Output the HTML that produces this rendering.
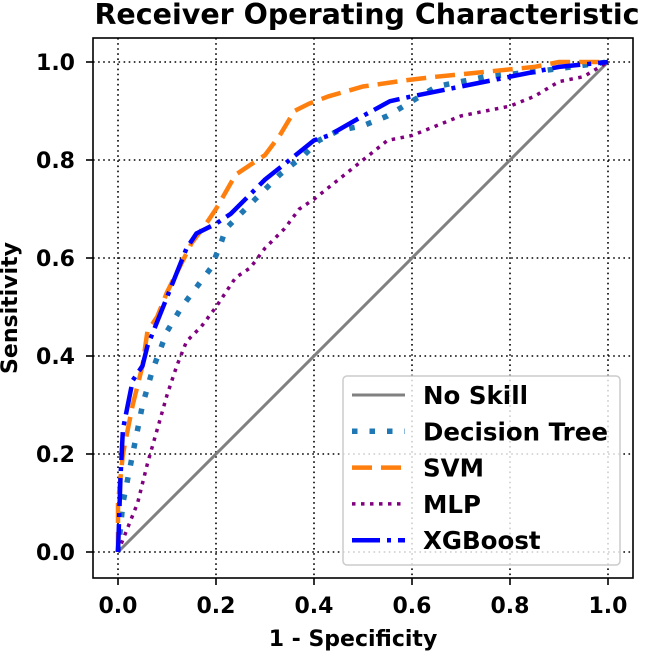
<!DOCTYPE html>
<html><head><meta charset="utf-8"><style>
body{margin:0;background:#fff;}
svg text{font-family:"DejaVu Sans","Liberation Sans",sans-serif;font-weight:bold;}
</style></head><body>
<svg id="chart" width="650" height="653" xmlns="http://www.w3.org/2000/svg">
<text x="367" y="24" text-anchor="middle" font-size="28.5">Receiver Operating Characteristic</text>
<g id="grid"></g>
<g id="series"></g>
<rect x="93" y="38" width="540" height="540" fill="none" stroke="#000" stroke-width="1.6"/>
<g id="ticks"></g>
<text x="353" y="646" text-anchor="middle" font-size="22">1 - Specificity</text>
<text transform="translate(17,308) rotate(-90)" text-anchor="middle" font-size="22">Sensitivity</text>
<g id="legend"></g>
</svg>
<script>
const tickVals=[0,0.2,0.4,0.6,0.8,1.0];
const tickLabels=["0.0","0.2","0.4","0.6","0.8","1.0"];
const noSkillX=[0,1];
const noSkillY=[0,1];
const dtX=[0,0.01,0.03,0.05,0.07,0.1,0.13,0.16,0.19,0.21,0.22,0.25,0.28,0.33,0.38,0.41,0.45,0.5,0.55,0.6,0.65,0.75,0.85,1];
const dtY=[0,0.1,0.2,0.3,0.37,0.45,0.5,0.54,0.58,0.63,0.66,0.69,0.72,0.77,0.81,0.84,0.86,0.87,0.89,0.92,0.95,0.97,0.98,1];
const svmX=[0,0,0.01,0.02,0.03,0.05,0.06,0.08,0.1,0.12,0.15,0.18,0.2,0.24,0.27,0.3,0.33,0.36,0.39,0.43,0.5,0.59,0.65,0.75,0.85,0.9,1];
const svmY=[0,0.1,0.2,0.25,0.3,0.38,0.45,0.48,0.53,0.57,0.63,0.67,0.7,0.77,0.79,0.81,0.85,0.9,0.915,0.93,0.95,0.963,0.97,0.98,0.99,1,1];
const mlpX=[0,0.02,0.04,0.06,0.08,0.1,0.12,0.14,0.17,0.2,0.24,0.27,0.3,0.34,0.37,0.4,0.45,0.5,0.55,0.6,0.65,0.7,0.75,0.8,0.85,0.9,0.95,1];
const mlpY=[0,0.05,0.1,0.18,0.25,0.32,0.38,0.43,0.46,0.5,0.56,0.58,0.62,0.66,0.7,0.72,0.76,0.8,0.84,0.85,0.87,0.89,0.9,0.91,0.93,0.96,0.97,1];
const xgbX=[0,0.005,0.01,0.02,0.03,0.05,0.06,0.08,0.1,0.12,0.14,0.16,0.2,0.23,0.26,0.3,0.35,0.4,0.43,0.5,0.555,0.6,0.7,0.8,0.9,1];
const xgbY=[0,0.15,0.25,0.3,0.35,0.38,0.42,0.47,0.52,0.57,0.62,0.65,0.67,0.69,0.72,0.76,0.8,0.84,0.85,0.89,0.92,0.93,0.95,0.97,0.99,1];
const sx=v=>118+v*490, sy=v=>552-v*490;
const NS="http://www.w3.org/2000/svg";
function mk(t,a,p){const e=document.createElementNS(NS,t);for(const k in a)e.setAttribute(k,a[k]);p.appendChild(e);return e;}
const grid=document.getElementById('grid'),ticks=document.getElementById('ticks');
tickVals.forEach((v,i)=>{
 const g1=mk('line',{x1:sx(v),x2:sx(v),y1:38,y2:578,stroke:'#000','stroke-width':1.6,'stroke-dasharray':'1.6,3.5'},grid);
 
 
 const g2=mk('line',{x1:93,x2:633,y1:sy(v),y2:sy(v),stroke:'#000','stroke-width':1.6,'stroke-dasharray':'1.6,3.5'},grid);
 
 
 mk('line',{x1:sx(v),x2:sx(v),y1:578,y2:585,stroke:'#000','stroke-width':1.6},ticks);
 mk('line',{x1:86,x2:93,y1:sy(v),y2:sy(v),stroke:'#000','stroke-width':1.6},ticks);
 const tx=mk('text',{x:sx(v),y:613,'text-anchor':'middle','font-size':22},ticks);tx.textContent=tickLabels[i];
 
 
 const ty=mk('text',{x:75,y:sy(v)+8,'text-anchor':'end','font-size':22},ticks);ty.textContent=tickLabels[i];
 
 
});
const styles=[
 {n:'No Skill',x:noSkillX,y:noSkillY,c:'#808080',w:3,d:'',k:'no-skill-line'},
 {n:'Decision Tree',x:dtX,y:dtY,c:'#1f77b4',w:5.5,d:'5.5,12',k:'decision-tree-line'},
 {n:'SVM',x:svmX,y:svmY,c:'#ff7f0e',w:4.5,d:'20,9',k:'svm-line'},
 {n:'MLP',x:mlpX,y:mlpY,c:'#800080',w:3.5,d:'3.5,5.5',k:'mlp-line'},
 {n:'XGBoost',x:xgbX,y:xgbY,c:'#0000ff',w:4.5,d:'28,7,4,7',k:'xgboost-line'}];
const ser=document.getElementById('series');
styles.forEach(s=>{
 const p=mk('polyline',{points:s.x.map((v,i)=>sx(v)+','+sy(s.y[i])).join(' '),fill:'none',stroke:s.c,'stroke-width':s.w,'stroke-dasharray':s.d},ser);
 
 
});
const lg=document.getElementById('legend');
mk('rect',{x:343,y:376,width:277,height:189,rx:4,fill:'#fff','fill-opacity':0.8,stroke:'#ccc','stroke-width':1.5},lg);
styles.forEach((s,i)=>{
 const y=395+i*36.3;
 const l=mk('line',{x1:352,x2:405,y1:y,y2:y,stroke:s.c,'stroke-width':s.w,'stroke-dasharray':s.d},lg);
 
 
 const t=mk('text',{x:423,y:y+9,'font-size':24.5},lg);t.textContent=s.n;
 
 
});
</script>
</body></html>
